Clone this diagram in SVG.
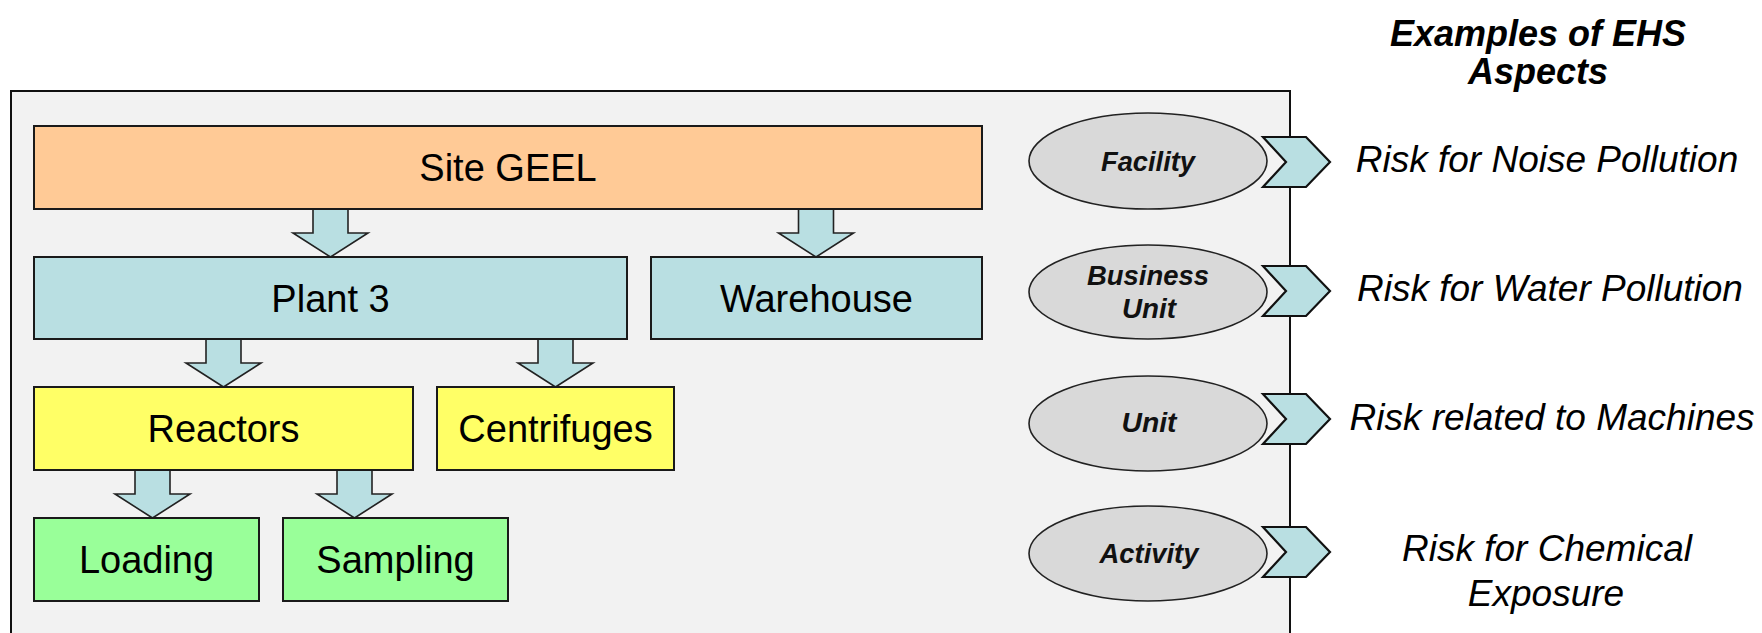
<svg xmlns="http://www.w3.org/2000/svg" width="1762" height="633" viewBox="0 0 1762 633">
  <defs>
    <style>
      .frame { fill: #F2F2F2; stroke: #111; stroke-width: 2; }
      .box { stroke: #1a1a1a; stroke-width: 2; }
      .site { fill: #FFCA96; }
      .plant { fill: #B9DFE2; }
      .equip { fill: #FFFF66; }
      .act { fill: #99FF99; }
      .lbl { font-family: "Liberation Sans", Arial, sans-serif; font-size: 38px; fill: #000; text-anchor: middle; }
      .arrow { fill: #B9DFE2; stroke: #222; stroke-width: 1.6; stroke-linejoin: miter; }
      .level { fill: #D9D9D9; stroke: #222; stroke-width: 1.6; }
      .lvl { font-family: "Liberation Sans", Arial, sans-serif; font-size: 28px; font-weight: bold; font-style: italic; fill: #111; text-anchor: middle; }
      .chev { fill: #B9DFE2; stroke: #111; stroke-width: 2.2; stroke-linejoin: miter; }
      .risk { font-family: "Liberation Sans", Arial, sans-serif; font-size: 37px; font-style: italic; fill: #000; text-anchor: middle; }
      .head { font-family: "Liberation Sans", Arial, sans-serif; font-size: 36px; font-weight: bold; font-style: italic; fill: #000; text-anchor: middle; }
    </style>
  </defs>

  <rect width="1762" height="633" fill="#FFFFFF"/>

  <!-- outer frame holding the hierarchy -->
  <rect class="frame" x="11" y="91" width="1279" height="560"/>

  <!-- block arrows between hierarchy levels -->
  <g id="connectors">
    <path class="arrow" d="M313,209 H348 V233 H368 L330.5,257 L293,233 H313 Z"/>
    <path class="arrow" d="M798.5,209 H833.5 V233 H853.5 L816,257 L778.5,233 H798.5 Z"/>
    <path class="arrow" d="M206,339 H241 V363 H261 L223.5,387 L186,363 H206 Z"/>
    <path class="arrow" d="M538,339 H573 V363 H593 L555.5,387 L518,363 H538 Z"/>
    <path class="arrow" d="M135,470 H170 V494 H190 L152.5,518 L115,494 H135 Z"/>
    <path class="arrow" d="M337,470 H372 V494 H392 L354.5,518 L317,494 H337 Z"/>
  </g>

  <g id="site-geel">
    <rect class="box site" x="34" y="126" width="948" height="83"/>
    <text class="lbl" x="508" y="181">Site GEEL</text>
  </g>
  <g id="plant-3">
    <rect class="box plant" x="34" y="257" width="593" height="82"/>
    <text class="lbl" x="330.5" y="312">Plant 3</text>
  </g>
  <g id="warehouse">
    <rect class="box plant" x="651" y="257" width="331" height="82"/>
    <text class="lbl" x="816.5" y="312">Warehouse</text>
  </g>
  <g id="reactors">
    <rect class="box equip" x="34" y="387" width="379" height="83"/>
    <text class="lbl" x="223.5" y="442">Reactors</text>
  </g>
  <g id="centrifuges">
    <rect class="box equip" x="437" y="387" width="237" height="83"/>
    <text class="lbl" x="555.5" y="442">Centrifuges</text>
  </g>
  <g id="loading">
    <rect class="box act" x="34" y="518" width="225" height="83"/>
    <text class="lbl" x="146.5" y="573">Loading</text>
  </g>
  <g id="sampling">
    <rect class="box act" x="283" y="518" width="225" height="83"/>
    <text class="lbl" x="395.5" y="573">Sampling</text>
  </g>

  <!-- level ellipses (condensed bold italic labels) -->
  <g id="level-facility">
    <ellipse class="level" cx="1148" cy="161" rx="119" ry="48"/>
    <text class="lvl" x="1148" y="171" textLength="94" lengthAdjust="spacingAndGlyphs">Facility</text>
  </g>
  <g id="level-business-unit">
    <ellipse class="level" cx="1148" cy="292" rx="119" ry="47"/>
    <text class="lvl" x="1148" y="285" textLength="122" lengthAdjust="spacingAndGlyphs">Business</text>
    <text class="lvl" x="1149" y="318" textLength="54" lengthAdjust="spacingAndGlyphs">Unit</text>
  </g>
  <g id="level-unit">
    <ellipse class="level" cx="1148" cy="423.5" rx="119" ry="47.5"/>
    <text class="lvl" x="1149" y="432" textLength="55" lengthAdjust="spacingAndGlyphs">Unit</text>
  </g>
  <g id="level-activity">
    <ellipse class="level" cx="1148" cy="553.5" rx="119" ry="47.5"/>
    <text class="lvl" x="1149" y="563" textLength="99" lengthAdjust="spacingAndGlyphs">Activity</text>
  </g>

  <!-- chevrons pointing to the example aspects -->
  <g id="chevrons">
    <polygon class="chev" points="1263,137 1306,137 1330,162 1306,187 1263,187 1286,162"/>
    <polygon class="chev" points="1263,266 1306,266 1330,291 1306,316 1263,316 1286,291"/>
    <polygon class="chev" points="1263,394 1306,394 1330,419 1306,444 1263,444 1286,419"/>
    <polygon class="chev" points="1263,527 1306,527 1330,552 1306,577 1263,577 1286,552"/>
  </g>

  <g id="aspects-heading">
    <text class="head" x="1538" y="46">Examples of EHS</text>
    <text class="head" x="1538" y="84">Aspects</text>
  </g>
  <g id="aspect-noise">
    <text class="risk" x="1547" y="172">Risk for Noise Pollution</text>
  </g>
  <g id="aspect-water">
    <text class="risk" x="1550" y="301">Risk for Water Pollution</text>
  </g>
  <g id="aspect-machines">
    <text class="risk" x="1552" y="430">Risk related to Machines</text>
  </g>
  <g id="aspect-chemical">
    <text class="risk" x="1547" y="561">Risk for Chemical</text>
    <text class="risk" x="1546" y="606">Exposure</text>
  </g>
</svg>
